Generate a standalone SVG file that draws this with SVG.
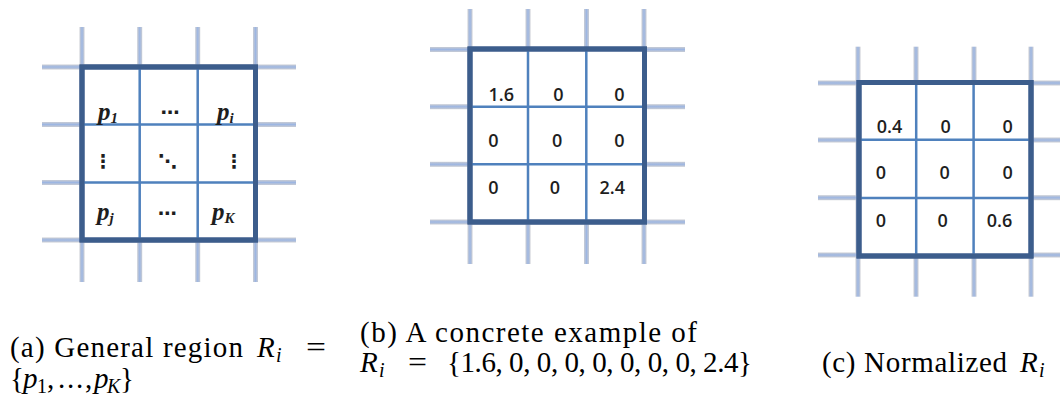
<svg xmlns="http://www.w3.org/2000/svg" width="1060" height="402" viewBox="0 0 1060 402">
<style>
.box{fill:#ffffff;stroke:#3c5d8c;stroke-width:5}
.frame{fill:none;stroke:#3c5d8c;stroke-width:5}
.inner{stroke:#4f81bd;stroke-width:2.5;fill:none}
.ev{fill:url(#gv)}
.eh{fill:url(#gh)}
.num{font-family:"Open Sans","Liberation Sans",sans-serif;font-size:18px;font-weight:600;fill:#1e1e1e;text-anchor:middle}
.pv{font-family:"Liberation Serif",serif;font-style:italic;font-weight:bold;font-size:25px;fill:#1e1e1e}
.ps{font-family:"Liberation Serif",serif;font-size:15px}
.dots{font-family:"DejaVu Sans",sans-serif;font-size:19px;font-weight:bold;fill:#1e1e1e;text-anchor:middle}
.cap{font-family:"Liberation Serif",serif;font-size:29px;fill:#000}
.it{font-style:italic}
.sub{font-size:20px;font-style:italic}
.subn{font-size:20px}
</style>
<defs>
<linearGradient id="gv" x1="0" y1="0" x2="1" y2="0">
<stop offset="0" stop-color="#c9ccd3"/>
<stop offset="0.5" stop-color="#9db6e2"/>
<stop offset="1" stop-color="#c9ccd3"/>
</linearGradient>
<linearGradient id="gh" x1="0" y1="0" x2="0" y2="1">
<stop offset="0" stop-color="#c9ccd3"/>
<stop offset="0.5" stop-color="#9db6e2"/>
<stop offset="1" stop-color="#c9ccd3"/>
</linearGradient>
</defs>

<!-- Panel (a) -->
<g id="panel-a">
<rect class="ev" x="79.5" y="27" width="5" height="255"/>
<rect class="ev" x="137.2" y="27" width="5" height="255"/>
<rect class="ev" x="195.2" y="27" width="5" height="255"/>
<rect class="ev" x="253" y="27" width="5" height="255"/>
<rect class="eh" x="42" y="64.5" width="254" height="5"/>
<rect class="eh" x="42" y="122" width="254" height="5"/>
<rect class="eh" x="42" y="180" width="254" height="5"/>
<rect class="eh" x="42" y="237.5" width="254" height="5"/>
<rect class="box" x="82" y="67" width="173.5" height="173"/>
<path class="inner" d="M139.7 67V240M197.7 67V240M82 124.5H255.5M82 182.5H255.5"/>
<rect class="frame" x="82" y="67" width="173.5" height="173"/>
<text class="pv" x="98" y="120">p<tspan class="ps" dy="3">1</tspan></text>
<text class="dots" x="170" y="119">⋯</text>
<text class="pv" x="217" y="120">p<tspan class="ps" dy="3">i</tspan></text>
<text class="dots" x="103" y="168">⋮</text>
<text class="dots" x="167.5" y="168">⋱</text>
<text class="dots" x="234" y="168">⋮</text>
<text class="pv" x="97" y="220">p<tspan class="ps" dy="3">j</tspan></text>
<text class="dots" x="167.3" y="220">⋯</text>
<text class="pv" x="212" y="220">p<tspan class="ps" dy="3" font-size="14">K</tspan></text>
</g>

<!-- Panel (b) -->
<g id="panel-b">
<rect class="ev" x="467.5" y="9" width="5" height="255"/>
<rect class="ev" x="525.5" y="9" width="5" height="255"/>
<rect class="ev" x="584" y="9" width="5" height="255"/>
<rect class="ev" x="641.5" y="9" width="5" height="255"/>
<rect class="eh" x="430" y="47" width="255" height="5"/>
<rect class="eh" x="430" y="104.2" width="255" height="5"/>
<rect class="eh" x="430" y="161.8" width="255" height="5"/>
<rect class="eh" x="430" y="219.5" width="255" height="5"/>
<rect class="box" x="470" y="49" width="174.5" height="173"/>
<path class="inner" d="M528 49V222M586.3 49V222M470 106.7H644.5M470 164.3H644.5"/>
<rect class="frame" x="470" y="49" width="174.5" height="173"/>
<text class="num" x="501.3" y="100.5">1.6</text>
<text class="num" x="558.3" y="100.5">0</text>
<text class="num" x="619.5" y="100.5">0</text>
<text class="num" x="493.3" y="147">0</text>
<text class="num" x="557.2" y="147">0</text>
<text class="num" x="619.5" y="147">0</text>
<text class="num" x="493.3" y="194.3">0</text>
<text class="num" x="555" y="194.3">0</text>
<text class="num" x="612.3" y="194.3">2.4</text>
</g>

<!-- Panel (c) -->
<g id="panel-c">
<rect class="ev" x="855.5" y="46.7" width="5" height="250"/>
<rect class="ev" x="913.5" y="46.7" width="5" height="250"/>
<rect class="ev" x="971.5" y="46.7" width="5" height="250"/>
<rect class="ev" x="1028.5" y="46.7" width="5" height="250"/>
<rect class="eh" x="818" y="80.5" width="242" height="5"/>
<rect class="eh" x="818" y="137.5" width="242" height="5"/>
<rect class="eh" x="818" y="195.2" width="242" height="5"/>
<rect class="eh" x="818" y="252.5" width="242" height="5"/>
<rect class="box" x="859" y="82.5" width="172" height="173.5"/>
<path class="inner" d="M916.2 82.5V256M973.6 82.5V256M859 139.8H1031M859 198H1031"/>
<rect class="frame" x="859" y="82.5" width="172" height="173.5"/>
<text class="num" x="889.5" y="132.7">0.4</text>
<text class="num" x="945.7" y="132.7">0</text>
<text class="num" x="1007.7" y="132.7">0</text>
<text class="num" x="881" y="179">0</text>
<text class="num" x="944.7" y="179">0</text>
<text class="num" x="1007.7" y="179">0</text>
<text class="num" x="881" y="226.7">0</text>
<text class="num" x="942.7" y="226.7">0</text>
<text class="num" x="999.5" y="226.7">0.6</text>
</g>

<!-- Captions -->
<g id="captions">
<text class="cap" x="10" y="357" textLength="233" lengthAdjust="spacing">(a) General region</text>
<text class="cap" y="357"><tspan class="it" x="257">R</tspan><tspan class="sub" x="276" dy="5">i</tspan></text>
<text class="cap" x="306" y="357" textLength="20" lengthAdjust="spacingAndGlyphs">=</text>
<text class="cap" y="388"><tspan x="10">{</tspan><tspan class="it" x="23">p</tspan><tspan class="subn" x="37" dy="5">1</tspan><tspan x="47" dy="-5">,</tspan><tspan x="58">.</tspan><tspan x="67">.</tspan><tspan x="76">.</tspan><tspan x="85">,</tspan><tspan class="it" x="94">p</tspan><tspan class="sub" x="107" dy="5">K</tspan><tspan x="120" dy="-5">}</tspan></text>

<text class="cap" x="360" y="342" textLength="337" lengthAdjust="spacing">(b) A concrete example of</text>
<text class="cap" y="372"><tspan class="it" x="360">R</tspan><tspan class="sub" x="379" dy="5">i</tspan></text>
<text class="cap" x="408" y="372" textLength="19" lengthAdjust="spacingAndGlyphs">=</text>
<text class="cap" x="447" y="372" textLength="305" lengthAdjust="spacing">{1.6, 0, 0, 0, 0, 0, 0, 0, 2.4}</text>

<text class="cap" x="822" y="372" textLength="185" lengthAdjust="spacing">(c) Normalized</text>
<text class="cap" y="372"><tspan class="it" x="1020">R</tspan><tspan class="sub" x="1039" dy="5">i</tspan></text>
</g>
</svg>
